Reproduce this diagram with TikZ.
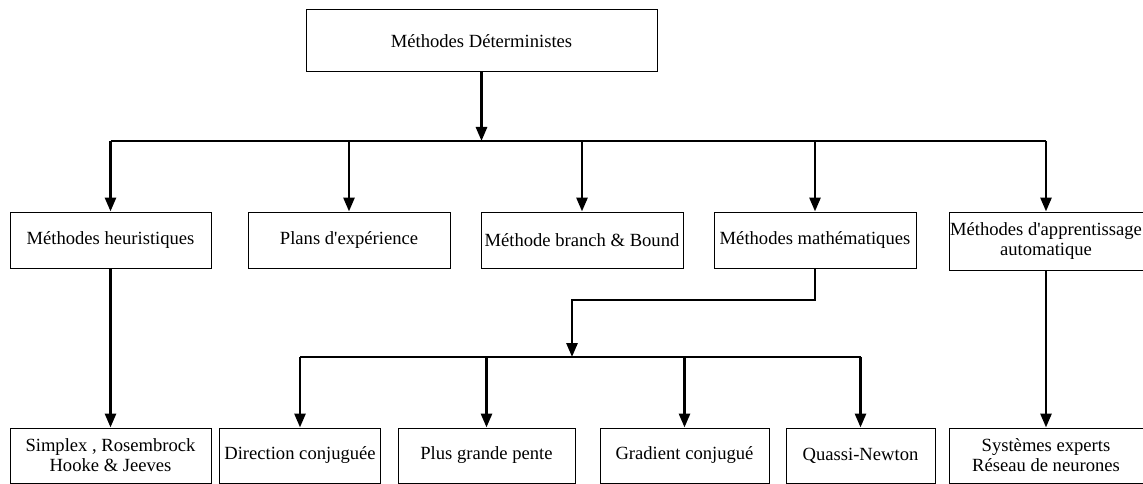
\documentclass[tikz,border=0pt]{standalone}
\usepackage{fontspec}
\setmainfont{Liberation Serif}
\usetikzlibrary{arrows.meta}
\begin{document}
\begin{tikzpicture}[x=1pt,y=-1pt,
  box/.style={draw,line width=1pt,inner sep=0pt,align=center,font=\fontsize{18.6}{21}\selectfont},
  bus/.style={line width=2.8pt},
  arr/.style={line width=2.8pt,-{Triangle[length=14pt,width=11pt]}}]
\useasboundingbox (0,0) rectangle (1143,484);
% top
\node[box,minimum width=351pt,minimum height=62pt] (top) at (481.5,41) {Méthodes Déterministes};
% middle row
\node[box,minimum width=201pt,minimum height=56pt] (heur) at (110.5,240) {Méthodes heuristiques};
\node[box,minimum width=202pt,minimum height=56pt] (plans) at (349,240) {Plans d\textquotesingle expérience};
\node[box,minimum width=202pt,minimum height=56pt] (branch) at (582,240) {Méthode branch \& Bound};
\node[box,minimum width=202pt,minimum height=56pt] (math) at (815,240) {Méthodes mathématiques};
\node[box,minimum width=194pt,minimum height=58pt] (appr) at (1046,241) {Méthodes d\textquotesingle apprentissage\\[-1pt]automatique};
% bottom row
\node[box,minimum width=201pt,minimum height=55pt] (simp) at (110.5,455.5) {Simplex , Rosembrock\\[-1pt]Hooke \& Jeeves};
\node[box,minimum width=161pt,minimum height=55pt] (dir) at (300,455.5) {Direction conjuguée};
\node[box,minimum width=177pt,minimum height=55pt] (plus) at (486.5,455.5) {Plus grande pente};
\node[box,minimum width=169pt,minimum height=55pt] (grad) at (684.5,455.5) {Gradient conjugué};
\node[box,minimum width=149pt,minimum height=55pt] (quas) at (860.5,455.5) {Quassi-Newton};
\node[box,minimum width=194pt,minimum height=55pt] (sys) at (1046,455.5) {Systèmes experts\\[-1pt]Réseau de neurones};
% helper coordinates
\coordinate (b1) at (0,141);
\coordinate (elb) at (572,300);
\coordinate (b2) at (0,357);
% level 1
\draw[arr] (top.south) -- (top.south |- b1);
\draw[bus] (heur.north |- b1) -- (appr.north |- b1);
\foreach \n in {heur,plans,branch,math,appr}
  \draw[arr] (\n.north |- b1) -- (\n.north);
% long arrows
\draw[arr] (heur.south) -- (simp.north);
\draw[arr] (appr.south) -- (sys.north);
% math branch
\draw[arr] (math.south) |- (elb) -- (elb |- b2);
\draw[bus] (dir.north |- b2) -- (quas.north |- b2);
\foreach \n in {dir,plus,grad,quas}
  \draw[arr] (\n.north |- b2) -- (\n.north);
\end{tikzpicture}
\end{document}
